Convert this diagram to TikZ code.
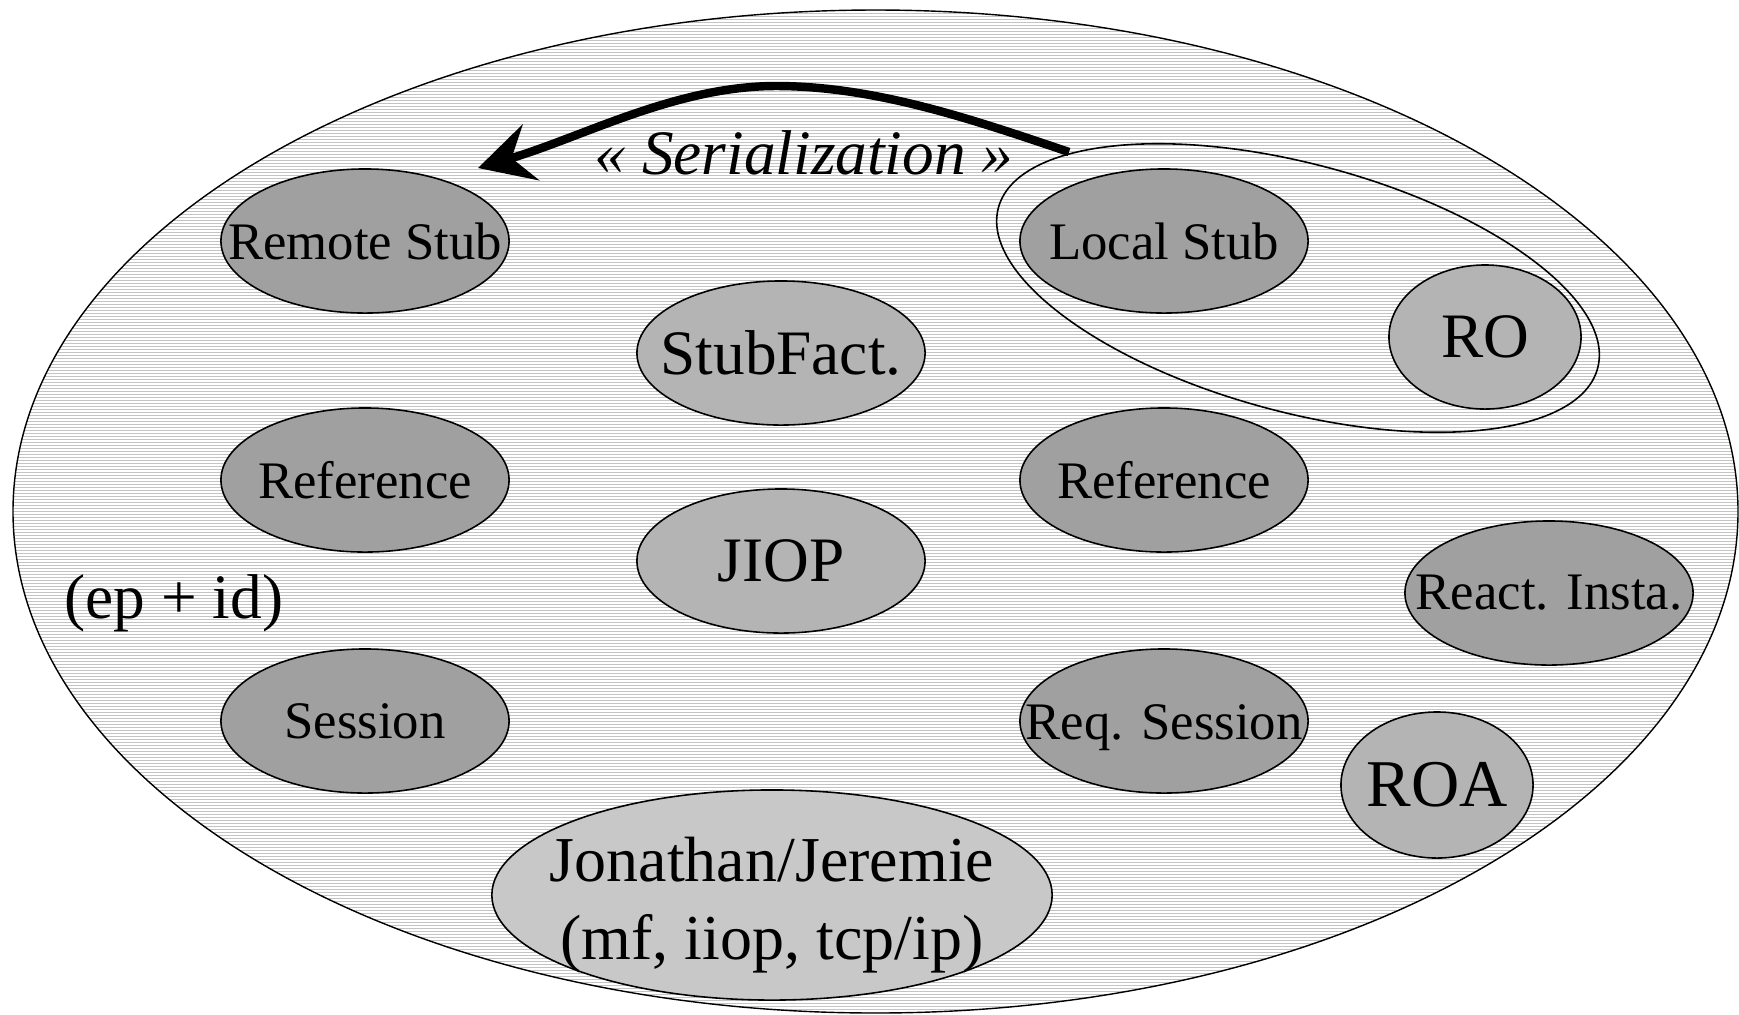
\documentclass[tikz,border=0pt]{standalone}
\usepackage{fontspec}
\setmainfont{Liberation Serif}
\usetikzlibrary{shapes.geometric,arrows.meta}
\definecolor{darkfill}{HTML}{A0A0A0}
\definecolor{midfill}{HTML}{B4B4B4}
\definecolor{lightfill}{HTML}{C8C8C8}
\definecolor{hatch}{HTML}{C4C4C4}
\begin{document}
\begin{tikzpicture}[x=0.01cm,y=-0.01cm,
  blob/.style={ellipse, draw=black, line width=0.45pt, inner sep=0pt,
    minimum width=2.88cm, minimum height=1.44cm},
  darkblob/.style={blob, fill=darkfill},
  midblob/.style={blob, fill=midfill},
  smalltxt/.style={label={[font=\fontsize{15}{18}\selectfont]center:{#1}}},
  bigtxt/.style={label={[font=\fontsize{18}{22}\selectfont]center:{#1}}},
  serarrow/.style={line width=2.4pt, -{Stealth[length=0.55cm, width=0.58cm, inset=0.2cm]}},
]
\useasboundingbox (0,0) rectangle (1739,1014);

% hatched world
\fill[white] (875.5,511.5) ellipse [x radius=862.5, y radius=501.5];
\begin{scope}
  \clip (875.5,511.5) ellipse [x radius=862.5, y radius=501.5];
  \foreach \k in {0,...,338}
    \draw[hatch, line width=0.01cm] (0,3*\k+1.5) -- (1739,3*\k+1.5);
\end{scope}
\draw[line width=0.4pt] (875.5,511.5) ellipse [x radius=862.5, y radius=501.5];

% left column
\node[darkblob, smalltxt=Remote Stub] (rstub) at (365,241) {};
\node[darkblob, smalltxt=Reference] (refl) at (365,480) {};
\node[darkblob, smalltxt=Session] (sess) at (365,721) {};
\node[font=\fontsize{18}{22}\selectfont] (epid) at (174,603) {(ep + id)};

% middle column
\node[midblob, bigtxt=StubFact.] (sfact) at (781,353) {};
\node[midblob, bigtxt=JIOP] (jiop) at (781,561) {};
\node[blob, fill=lightfill, minimum width=5.6cm, minimum height=2.1cm,
  label={[font=\fontsize{18.2}{22}\selectfont, align=center, yshift=-0.1cm]center:{Jonathan/Jeremie\\(mf, iiop, tcp/ip)}}]
  (jj) at (772,895) {};

% right column
\node[darkblob, smalltxt=Local Stub] (lstub) at (1164,241) {};
\node[midblob, minimum width=1.92cm, bigtxt=RO] (ro) at (1485,337) {};
\node[darkblob, smalltxt=Reference] (refr) at (1164,480) {};
\node[darkblob, smalltxt=React. Insta.] (react) at (1549,593) {};
\node[darkblob, label={[font=\fontsize{15}{18}\selectfont, yshift=-0.07cm]center:Req. Session}]
  (rsess) at (1164,721) {};
\node[midblob, minimum width=1.92cm, minimum height=1.46cm,
  label={[font=\fontsize{19}{23}\selectfont]center:ROA}] (roa) at (1437,785) {};

% group around the local stub and its object
\node[ellipse, draw=black, line width=0.45pt, inner sep=0pt,
  minimum width=6.2cm, minimum height=2.48cm, rotate=-15] (grp) at (1298,288) {};

% serialization arrow
\coordinate (serfrom) at (1069,152);
\coordinate (serpeak) at (776,86);
\coordinate (serto) at (478,168);
\draw[serarrow] (serfrom) .. controls (974,120) and (876,86) .. (serpeak)
  .. controls (676,86) and (583,137) .. (serto);
\node[font=\fontsize{18}{22}\selectfont\itshape] (ser) at (804,153) {« Serialization »};
\end{tikzpicture}
\end{document}
